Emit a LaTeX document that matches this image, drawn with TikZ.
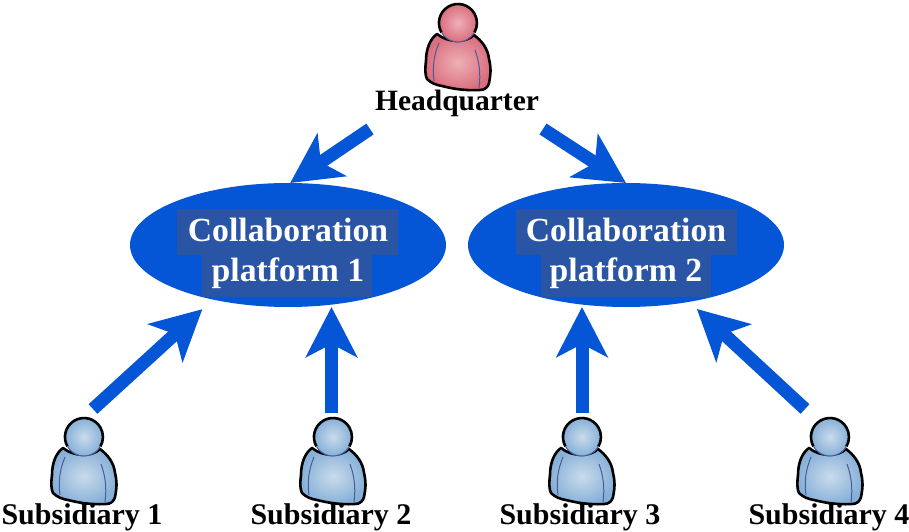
\documentclass[tikz,border=0pt]{standalone}
\usepackage{fontspec}
\setmainfont{Liberation Serif}
\usetikzlibrary{arrows.meta,shapes.geometric}
\definecolor{brandblue}{HTML}{0456D6}
\definecolor{backing}{HTML}{2A55A5}
\definecolor{pinkin}{HTML}{EDB0B6}
\definecolor{pinkout}{HTML}{DA6E7E}
\definecolor{bluein}{HTML}{CADBEB}
\definecolor{blueout}{HTML}{86B0D8}
\definecolor{seamblue}{HTML}{4A5A9A}
\tikzset{
  x=1pt,y=1pt,
  bigarrow/.style={draw=brandblue,line width=13pt,-{Stealth[length=50pt,width=51pt,inset=13pt,fill=brandblue]}},
  platform/.style={ellipse,fill=brandblue,minimum width=316pt,minimum height=124pt,inner sep=0pt,outer sep=0pt},
  platformtext/.style={font=\fontsize{33.7}{40}\selectfont\bfseries,text=white,inner sep=0pt,anchor=base},
  caption/.style={font=\fontsize{30}{34}\selectfont\bfseries,text=black,inner sep=0pt,anchor=base},
  hqcaption/.style={font=\fontsize{29.5}{34}\selectfont\bfseries,text=black,inner sep=0pt,anchor=base},
  backingbox/.style={fill=backing,draw=none},
  person/.pic={
    \def\bodypath{(-21,-11) .. controls (-28,-16) and (-32,-26) .. (-32,-38)
      .. controls (-33,-46) and (-33,-52) .. (-31,-56)
      .. controls (-27,-60) and (-22,-62) .. (-16,-63)
      .. controls (-8,-65) and (5,-68) .. (22,-67)
      .. controls (27,-67) and (30,-64) .. (31,-60)
      .. controls (33,-50) and (33,-44) .. (31,-36)
      .. controls (30,-26) and (24,-18) .. (16,-12)
      .. controls (8,-20) and (-10,-20) .. (-21,-11) -- cycle}
    \path[shade,inner color=\personin,outer color=\personout] \bodypath;
    \draw[black,line width=2.6pt,line join=round] \bodypath;
    \draw[seamblue,line width=1pt] (-19,-20) .. controls (-24,-32) and (-26,-44) .. (-24,-58);
    \draw[seamblue,line width=1pt] (17,-27) .. controls (21,-38) and (23,-50) .. (21,-65);
    \path[shade,inner color=\personin,outer color=\personout] (0,0) circle[radius=19];
    \draw[black,line width=2.6pt] (-16.5,-9.5) arc[start angle=210,end angle=-30,radius=19];
    \draw[seamblue,line width=1pt] (-16.5,-9.5) arc[start angle=210,end angle=330,radius=19];
  }
}
\begin{document}
\begin{tikzpicture}
\useasboundingbox (0,0) rectangle (909,531);
% platforms
\node[platform] (p1) at (288,286) {};
\node[platform] (p2) at (626,286) {};
\fill[backingbox] (177,322) rectangle (398,276);
\fill[backingbox] (202,276) rectangle (372,234);
\fill[backingbox] (516,322) rectangle (737,276);
\fill[backingbox] (541,276) rectangle (711,234);
\node[platformtext] (p1a) at (288,290) {Collaboration};
\node[platformtext] (p1b) at (288,250) {platform 1};
\node[platformtext] (p2a) at (626,290) {Collaboration};
\node[platformtext] (p2b) at (626,250) {platform 2};
% people
\def\personin{pinkin}\def\personout{pinkout}
\pic at (458,508) {person};
\def\personin{bluein}\def\personout{blueout}
\pic at (84,94) {person};
\pic at (333,94) {person};
\pic at (582,94) {person};
\pic at (830,94) {person};
% captions
\node[hqcaption] (hq) at (457,420) {Headquarter};
\node[caption] (s1) at (82,7) {Subsidiary 1};
\node[caption] (s2) at (331,7) {Subsidiary 2};
\node[caption] (s3) at (580,7) {Subsidiary 3};
\node[caption] (s4) at (829,7) {Subsidiary 4};
% connector free ends
\coordinate (hl) at (370,402);
\coordinate (hr) at (543,402);
\coordinate (t1) at (93,122);
\coordinate (t2) at (331.5,118);
\coordinate (t3) at (582,118);
\coordinate (t4) at (805,122);
% connectors
\draw[bigarrow] (hl) -- (p1.88);
\draw[bigarrow] (hr) -- (p2.north);
\draw[bigarrow,shorten >=14.3pt] (t1) -- (p1.216.6);
\draw[bigarrow,shorten >=2.5pt] (t2) -- (t2 |- p1.-53.5);
\draw[bigarrow,shorten >=2.5pt] (t3) -- (t3 |- p2.233.5);
\draw[bigarrow,shorten >=10.5pt] (t4) -- (p2.-42.5);
\end{tikzpicture}
\end{document}
